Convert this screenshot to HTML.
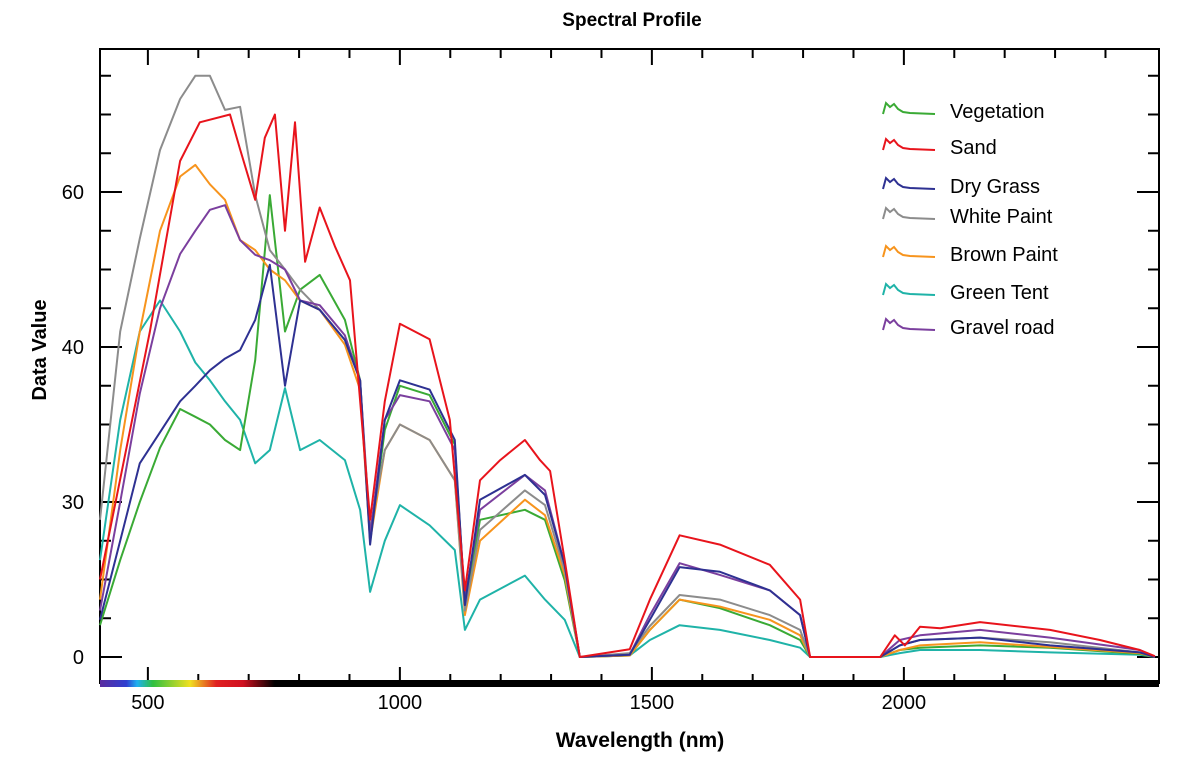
<!DOCTYPE html>
<html><head><meta charset="utf-8"><style>
body{margin:0;background:#fff;font-family:"Liberation Sans",sans-serif}
svg{display:block}
</style></head><body>
<svg id="chart" width="1200" height="766">
<defs><linearGradient id="spec" x1="100" x2="1159" gradientUnits="userSpaceOnUse">
<stop offset="0" stop-color="#5a2ca0"/><stop offset="0.025" stop-color="#2f3fd0"/><stop offset="0.035" stop-color="#20b0f0"/><stop offset="0.05" stop-color="#30c040"/><stop offset="0.085" stop-color="#f0e020"/><stop offset="0.11" stop-color="#e02020"/><stop offset="0.135" stop-color="#d01020"/><stop offset="0.165" stop-color="#000"/><stop offset="1" stop-color="#000"/></linearGradient></defs>
<text x="632" y="26" text-anchor="middle" font-size="19" font-weight="bold">Spectral Profile</text>
<text x="640" y="747" text-anchor="middle" font-size="21" font-weight="bold">Wavelength (nm)</text>
<text transform="translate(46,350) rotate(-90)" text-anchor="middle" font-size="20" font-weight="bold">Data Value</text>
<g id="axes"></g><g id="series"></g><g id="legend"></g>
</svg>
<script>
const xTickValues=[500,1000,1500,2000];
const yTickValues=[0,20,40,60];
const yTickLabels=["0","30","40","60"];
const seriesNames=["Vegetation","Sand","Dry Grass","White Paint","Brown Paint","Green Tent","Gravel road"];
const seriesColors=["#3aaa35","#e8141c","#2e3192","#8c8c8c","#f7941d","#1fb3a8","#7b3f9e"];
const wlSand=[405,504,564,603,663,683,713,732,752,772,792,812,841,871,901,941,970,1000,1059,1099,1129,1159,1199,1248,1278,1298,1327,1357,1456,1496,1555,1635,1734,1794,1814,1953,1982,2002,2032,2072,2151,2290,2389,2468,2498];
const valSand=[10,42,64,69,70,65.5,59,67,70,55,69,51,58,53,48.6,17.7,33,43,41,30.6,8.6,22.8,25.4,28,25.4,24,12.5,0,1,7.4,15.7,14.5,11.9,7.4,0,0,2.8,1.5,3.9,3.7,4.5,3.5,2.2,0.9,0.1];
const wlCommon=[405,445,484,524,564,594,623,653,683,713,742,772,802,841,891,921,941,970,1000,1059,1109,1129,1159,1248,1288,1327,1357,1456,1496,1555,1635,1734,1794,1814,1953,1992,2032,2151,2290,2468,2498];
const valWhite=[17.7,42,54,65.4,72,75,75,70.6,71,59.6,52.5,50,47.4,44.8,40.9,35.7,16.4,26.7,30,28,22.8,6,16.4,21.5,19.6,11.2,0,0.5,4,8,7.4,5.4,3.5,0,0,1.5,2.2,2.5,1.9,0.6,0];
const valBrown=[7.4,26.7,42,55,62,63.5,61,59,53.8,52.5,50,48.6,46,44.8,40.3,34.5,15,26.7,30,28,22.8,5.4,15,20.3,18.3,10.6,0,0.2,3.5,7.4,6.5,4.8,2.8,0,0,0.9,1.5,1.9,1.3,0.5,0];
const valGravel=[6,20,34,45,52,55,57.7,58.3,53.8,51.9,51.2,50,46,45.4,41.5,35.7,15.7,30.6,33.8,33,26.7,7.4,19,23.5,21.5,11.9,0,0.3,5.4,12.1,10.6,8.6,5.4,0,0,2.2,2.8,3.5,2.5,0.9,0];
const valDry=[4.8,15,25,29,33,35,37,38.5,39.6,43.5,50.6,35,46,44.8,40.9,35.7,14.5,30.6,35.7,34.5,28,6.7,20.3,23.5,20.9,11.9,0,0.3,4.8,11.6,11,8.6,5.4,0,0,1.5,2.2,2.5,1.5,0.6,0];
const valVeg=[4.1,12.5,20,27,32,31,30,28,26.7,38.3,59.6,42,47.4,49.3,43.5,35.7,15,29.3,35,33.8,27.4,6.7,17.7,19,17.7,9.9,0,0.2,3.5,7.4,6.3,4.1,2.2,0,0,0.9,1.2,1.5,1.2,0.4,0];
const valTent=[12.5,30.6,42,46,42,38,35.7,33,30.6,25,26.7,34.7,26.7,28,25.4,19,8.4,15,19.6,17,13.8,3.5,7.4,10.5,7.4,4.8,0,0.2,2.2,4.1,3.5,2.2,1.2,0,0,0.5,0.9,0.9,0.6,0.3,0];
const seriesWl=[wlCommon,wlSand,wlCommon,wlCommon,wlCommon,wlCommon,wlCommon];
const seriesVal=[valVeg,valSand,valDry,valWhite,valBrown,valTent,valGravel];

const L=100,R=1159,T=49,B=683;
const xs=nm=>L+(nm-405)*0.504;
const ys=v=>657-v*7.75;
const NS="http://www.w3.org/2000/svg";
function mk(tag,attrs,parent){const e=document.createElementNS(NS,tag);for(const k in attrs)e.setAttribute(k,attrs[k]);parent.appendChild(e);return e;}
const ax=document.getElementById('axes');
// ticks
for(let nm=500;nm<=2400;nm+=100){const x=xs(nm);const major=nm%500===0;
 const t=mk('line',{x1:x,x2:x,y1:B,y2:B-(major?16:9),stroke:'#000','stroke-width':2},ax);
 
 
 const t2=mk('line',{x1:x,x2:x,y1:T,y2:T+(major?16:9),stroke:'#000','stroke-width':2},ax);
 
 }
for(let v=0;v<=75;v+=5){const y=ys(v);const major=v%20===0;
 const t=mk('line',{x1:L,x2:L+(major?22:11),y1:y,y2:y,stroke:'#000','stroke-width':2},ax);
 
 
 const t2=mk('line',{x1:R,x2:R-(major?22:11),y1:y,y2:y,stroke:'#000','stroke-width':2},ax);
 
 }
const fr=mk('rect',{x:L,y:T,width:R-L,height:B-T,fill:'none',stroke:'#000','stroke-width':2},ax);


const cb=mk('rect',{x:L,y:B-3,width:R-L,height:7,fill:'url(#spec)'},ax);


xTickValues.forEach(nm=>{const t=mk('text',{x:xs(nm),y:709,'text-anchor':'middle','font-size':20},ax);t.textContent=nm;
 
 });
yTickValues.forEach((v,i)=>{const t=mk('text',{x:84,y:ys(v)+7,'text-anchor':'end','font-size':20},ax);t.textContent=yTickLabels[i];
 
 });
const sg=document.getElementById('series');
const order=[5,0,4,3,6,2,1];
order.forEach(i=>{const pts=seriesWl[i].map((w,j)=>xs(w).toFixed(1)+','+ys(seriesVal[i][j]).toFixed(1)).join(' ');
 const p=mk('polyline',{points:pts,fill:'none',stroke:seriesColors[i],'stroke-width':2,'stroke-linejoin':'round'},sg);
 
 });
const lg=document.getElementById('legend');
const ly=[111,147,186,216,254,292,327];
seriesNames.forEach((n,i)=>{const y=ly[i];
 const g=mk('g',{},lg);
 
 
 mk('polyline',{points:`883,${y+3} 886,${y-8} 890,${y-4} 894,${y-7} 898,${y-2} 903,${y+1} 910,${y+2} 935,${y+3}`,fill:'none',stroke:seriesColors[i],'stroke-width':2},g);
 const t=mk('text',{x:950,y:y+7,'font-size':20},g);t.textContent=n;});
</script>
</body></html>
